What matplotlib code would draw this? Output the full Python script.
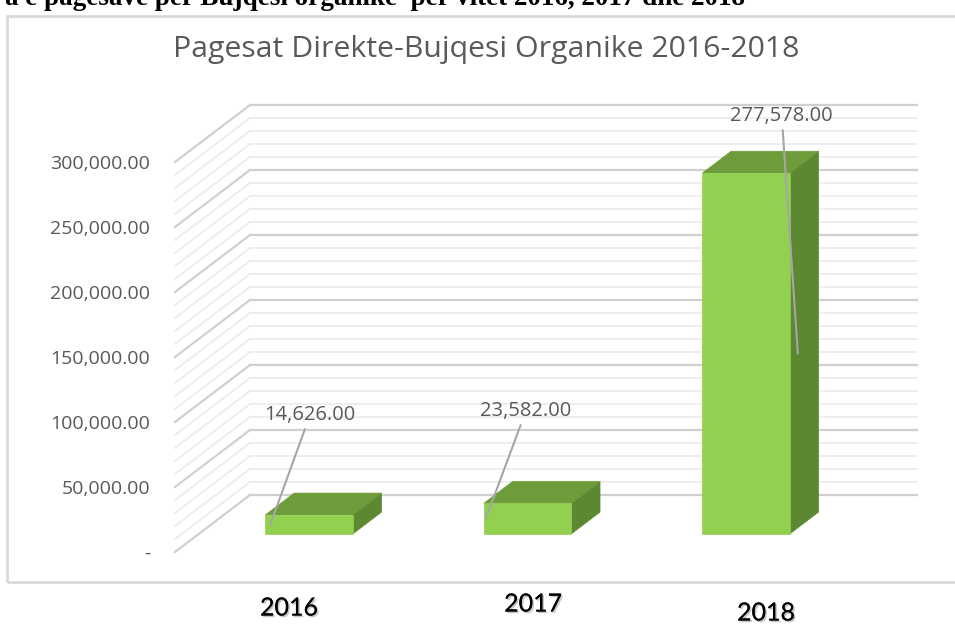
import matplotlib
matplotlib.use("Agg")
import matplotlib.pyplot as plt
import matplotlib.patheffects as pe
from matplotlib.patches import Polygon, Rectangle

years = ["2016", "2017", "2018"]
values = [14626.00, 23582.00, 277578.00]
y_ticks = [0, 50000, 100000, 150000, 200000, 250000, 300000]
title = "Pagesat Direkte-Bujqesi Organike 2016-2018"
caption = "a e pagesave per Bujqesi organike  per vitet 2016, 2017 dhe 2018"

# layout (not data): label centres, leader anchors, year label spots
label_pos = [(0.113, 105400), (1.101, 108500), (2.272, 335400)]
leader_anchor = [(-0.178, 0.47), (-0.19, 0.52), (0.237, 0.50)]
year_pos = [(0.017, 17), (1.134, 21), (2.20, 12)]

# oblique "3D" projection: one unit of depth shifts right / up
DX, DY = 0.3432, 43846
T_FRONT, T_BACK = 0.316, 0.70
BAR_W = 0.40
X0, X1 = -0.505, 2.55

FRONT = "#92d050"
TOP = "#6e9c3a"
SIDE = "#5c8831"
GRAY = "#595959"


def proj(x, v, t):
    return (x + DX * t, v + DY * t)


fig = plt.figure(figsize=(9.55, 6.25), dpi=100)
ax = fig.add_axes([175 / 955, 73 / 625, 667.5 / 955, 390 / 625])
ax.set_xlim(X0, X1)
ax.set_ylim(0, 300000)
for s in ax.spines.values():
    s.set_visible(False)
ax.set_xticks([])
ax.set_yticks(y_ticks)
ax.set_yticklabels(["-" if v == 0 else f"{v:,.2f}" for v in y_ticks])
ax.tick_params(axis="y", length=0, pad=18, labelsize=14, labelcolor=GRAY)
for lab in ax.get_yticklabels():
    lab.set_fontfamily("Open Sans")

# walls: back wall + left wall gridlines
for v in range(0, 300001, 10000):
    major = v % 50000 == 0
    col = "#d0d0d0" if major else "#ebebeb"
    lw = 1.6 if major else 1.2
    bx0, by = proj(X0, v, 1)
    bx1, _ = proj(X1, v, 1)
    ax.plot([bx0, bx1], [by, by], color=col, lw=lw, clip_on=False, zorder=1)
    ax.plot([X0, bx0], [v, by], color=col, lw=lw, clip_on=False, zorder=1)

# bars
for i, val in enumerate(values):
    l, r = i - BAR_W / 2, i + BAR_W / 2
    front = [proj(l, 0, T_FRONT), proj(r, 0, T_FRONT), proj(r, val, T_FRONT), proj(l, val, T_FRONT)]
    top = [proj(l, val, T_FRONT), proj(r, val, T_FRONT), proj(r, val, T_BACK), proj(l, val, T_BACK)]
    side = [proj(r, 0, T_FRONT), proj(r, 0, T_BACK), proj(r, val, T_BACK), proj(r, val, T_FRONT)]
    for pts, c in [(side, SIDE), (top, TOP), (front, FRONT)]:
        ax.add_patch(Polygon(pts, closed=True, facecolor=c, edgecolor=c, lw=0.5,
                             clip_on=False, zorder=3))

# data labels with leader lines
for i, val in enumerate(values):
    dx, frac = leader_anchor[i]
    ax.annotate(f"{val:,.2f}", xy=proj(i + dx, val * frac, T_FRONT), xytext=label_pos[i],
                ha="center", va="center", fontsize=14.5, color=GRAY, family="Open Sans",
                arrowprops=dict(arrowstyle="-", color="#a6a6a6", lw=1.5,
                                shrinkA=1, shrinkB=0),
                annotation_clip=False, zorder=5)

# title inside chart area
fig.text(486 / 955, 1 - 50 / 625, title, ha="center", va="center", fontsize=21.8,
         color=GRAY, family="Open Sans")

# chart area border
fig.patches.append(Rectangle((7 / 955, 43 / 625), 1.0, 1 - 16 / 625 - 43 / 625,
                             transform=fig.transFigure, fill=False,
                             edgecolor="#d9d9d9", lw=2, zorder=0))

# year labels below the chart box
for (x, ypx), yr in zip(year_pos, years):
    ax.annotate(yr, xy=(x, ypx), xycoords=("data", "figure pixels"), ha="center",
                va="center", fontsize=18, family="Lato", color="black",
                annotation_clip=False,
                path_effects=[pe.withSimplePatchShadow(offset=(1.2, -1.2),
                                                       shadow_rgbFace="#909090", alpha=0.5),
                              pe.Normal()])

# document caption, cut at the top edge as in the source screenshot
fig.text(745 / 955, 1 - 5 / 625, caption, ha="right", va="baseline", fontsize=19.5,
         fontweight="bold", family="Liberation Serif", color="black")

fig.savefig("out.png", dpi=100)
